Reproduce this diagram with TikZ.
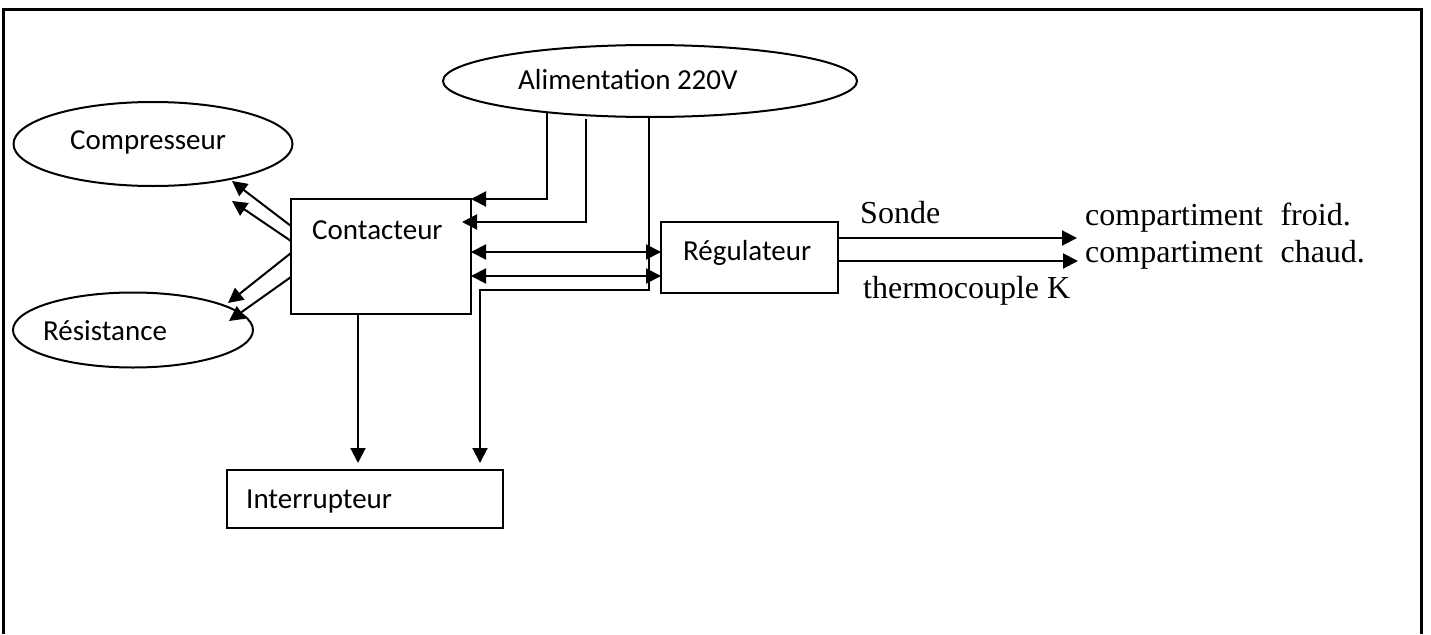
\documentclass[tikz,border=0pt]{standalone}
\usepackage{fontspec}
\setmainfont{Liberation Serif}
\newfontfamily\calib{Carlito}
\usetikzlibrary{arrows.meta,shapes.geometric}
\begin{document}
\begin{tikzpicture}[x=1pt,y=-1pt,
  shp/.style={draw,line width=2pt,inner sep=0pt,outer sep=0pt},
  ell/.style={shp,ellipse},
  boxn/.style={shp,rectangle},
  lab/.style={inner sep=0pt,font=\calib\fontsize{29}{34}\selectfont},
  tim/.style={inner sep=0pt,font=\fontsize{32}{38}\selectfont},
  conn/.style={line width=2pt},
  arr/.style={conn,-{Triangle[length=15pt,width=15pt]}},
  darr/.style={conn,{Triangle[length=15pt,width=15pt]}-{Triangle[length=15pt,width=15pt]}}]
\useasboundingbox (0,0) rectangle (1431,634);
\fill[white] (0,0) rectangle (1431,634);
% frame
\coordinate (fbl) at (3,634);
\coordinate (ftl) at (3,10);
\coordinate (ftr) at (1421,10);
\coordinate (fbr) at (1421,634);
\draw[line width=3pt] (fbl) -- (ftl) -- (ftr) -- (fbr);

% shapes
\node[ell,minimum width=414pt,minimum height=72pt] (alim) at (650,81) {};
\node[ell,minimum width=279pt,minimum height=84pt] (comp) at (153,144) {};
\node[ell,minimum width=240pt,minimum height=75pt] (res) at (133,330) {};
\node[boxn,minimum width=180pt,minimum height=115pt] (cont) at (381,256.5) {};
\node[boxn,minimum width=177pt,minimum height=71pt] (reg) at (749.5,257.5) {};
\node[boxn,minimum width=276pt,minimum height=58pt] (inter) at (365,499) {};

% labels
\node[lab,anchor=base west] (talim) at (518,89) {Alimentation 220V};
\node[lab,anchor=base west] (tcomp) at (70,149) {Compresseur};
\node[lab,anchor=base west] (tres) at (43,340) {Résistance};
\node[lab,anchor=base west] (tcont) at (312,239) {Contacteur};
\node[lab,anchor=base west] (treg) at (683,260) {Régulateur};
\node[lab,anchor=base west] (tint) at (246,508) {Interrupteur};
\node[tim,anchor=base west] (tsonde) at (860,223) {Sonde};
\node[tim,anchor=base west] (tthermo) at (863,298) {thermocouple K};
\node[tim,anchor=base west] (tfroid) at (1085,225) {compartiment\hspace{0.55em}froid.};
\node[tim,anchor=base west] (tchaud) at (1085,262) {compartiment\hspace{0.55em}chaud.};

% coordinates for connector ends
\coordinate (c1s) at (291,226);
\coordinate (c1e) at (232,181);
\coordinate (c2s) at (291,241);
\coordinate (c2e) at (232,201);
\coordinate (c3s) at (291,253);
\coordinate (c3e) at (228,303);
\coordinate (c4s) at (291,277);
\coordinate (c4e) at (229,321);
\coordinate (a1) at (547,112);
\coordinate (a2) at (586,119);
\coordinate (a2e) at (462,222);
\coordinate (a3) at (649,117);
\coordinate (a3c) at (480,290);
\coordinate (a3e) at (480,463);
\coordinate (r1l) at (471,252);
\coordinate (r1r) at (661,252);
\coordinate (r2l) at (471,276);
\coordinate (r2r) at (661,276);
\coordinate (dn1) at (358,314);
\coordinate (dn1e) at (358,463);
\coordinate (s1) at (838,238);
\coordinate (s1e) at (1077,238);
\coordinate (s2) at (838,261);
\coordinate (s2e) at (1078,261);

% connectors
\draw[arr] (c1s) -- (c1e);
\draw[arr] (c2s) -- (c2e);
\draw[arr] (c3s) -- (c3e);
\draw[arr] (c4s) -- (c4e);
\draw[arr] (a1) |- (cont.north east);
\draw[arr] (a2) |- (a2e);
\draw[arr] (a3) |- (a3c) -- (a3e);
\draw[darr] (r1l) -- (r1r);
\draw[darr] (r2l) -- (r2r);
\draw[arr] (dn1) -- (dn1e);
\draw[arr] (s1) -- (s1e);
\draw[arr] (s2) -- (s2e);
\end{tikzpicture}
\end{document}
